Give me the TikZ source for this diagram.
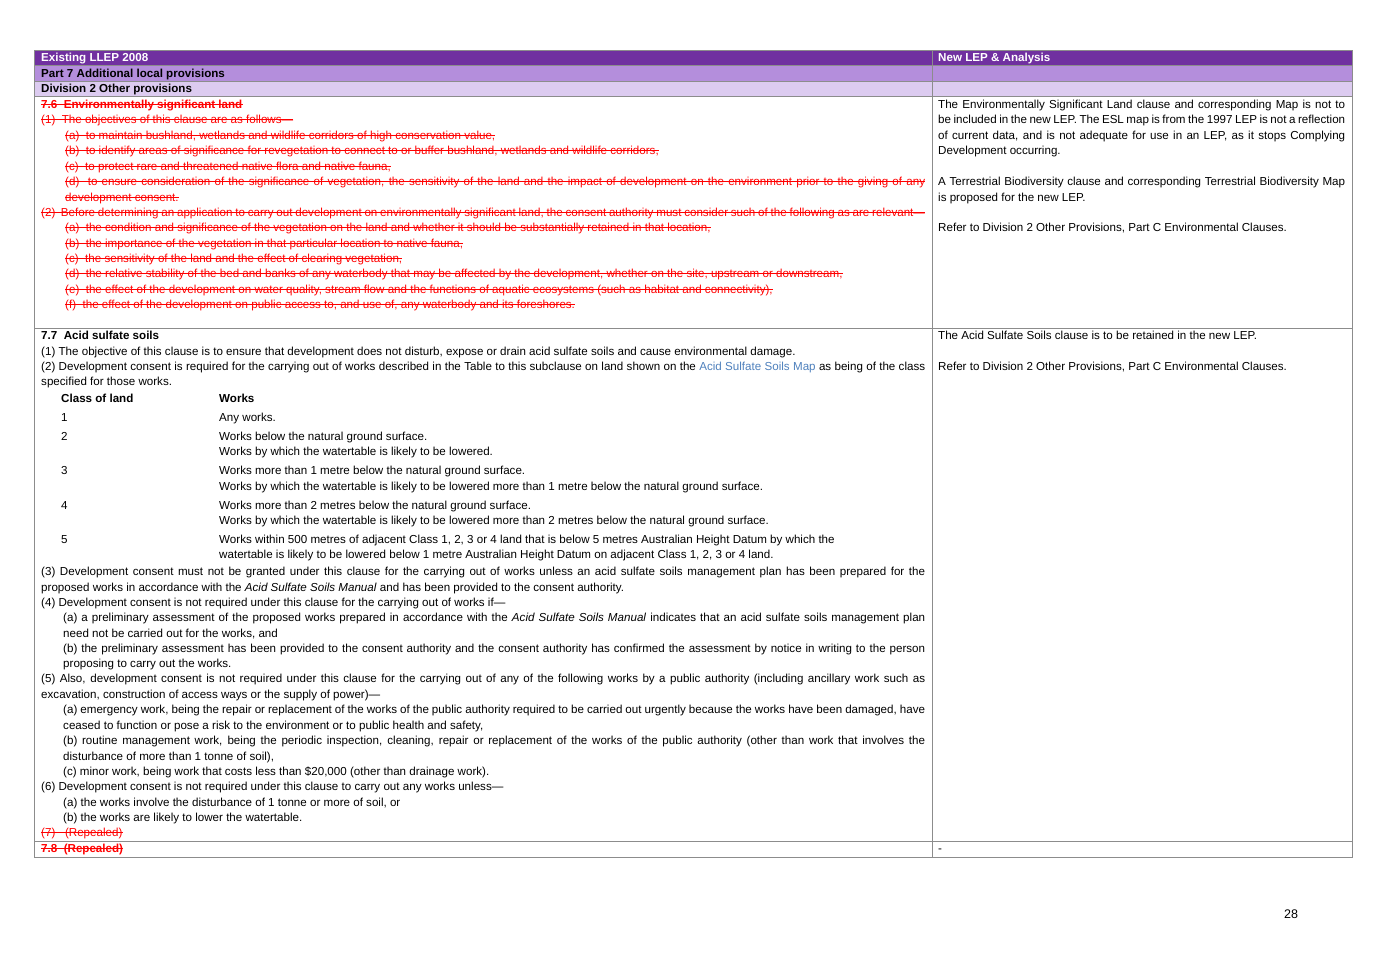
\documentclass[tikz,border=0pt]{standalone}
\usepackage{fontspec}
\setmainfont{Liberation Sans}
\definecolor{hdA}{HTML}{7030A0}
\definecolor{hdB}{HTML}{B48EDC}
\definecolor{hdC}{HTML}{DCCBF0}
\definecolor{rl}{HTML}{FF0000}
\definecolor{lnk}{HTML}{4F81BD}
\definecolor{grid}{HTML}{8C8C8C}
\newcounter{tn}
\newcommand\fs{\fontsize{11.6}{13}\selectfont}
\newcommand\T[4][]{\stepcounter{tn}\node[tx,#1] (t\thetn) at (#2,#3+4) {#4};}
\newcommand\J[5][]{\stepcounter{tn}\node[tx,#1] (t\thetn) at (#2,#3+4) {\hbox to #4pt{#5}};}
\newcommand\ST[4][]{\stepcounter{tn}\node[tx,text=rl,#1] (t\thetn) at (#2,#3+4) {#4};
  \draw[rl,line width=0.6pt] ([yshift=3.8pt]t\thetn.base west) -- ([yshift=3.8pt]t\thetn.base east);}
\newcommand\SJ[4]{\stepcounter{tn}\node[tx,text=rl] (t\thetn) at (#1,#2+4) {\hbox to #3pt{#4}};
  \draw[rl,line width=0.6pt] ([yshift=3.8pt]t\thetn.base west) -- ([yshift=3.8pt]t\thetn.base east);}
\begin{document}
\begin{tikzpicture}[x=1pt,y=-1pt,
  tx/.style={anchor=base west,inner sep=0pt,font=\fs}]
\useasboundingbox (0,0) rectangle (1382,977);
\fill[white] (0,0) rectangle (1382,977);
\fill[hdA] (34,50) rectangle (1352,65);
\fill[hdB] (34,65) rectangle (1352,81);
\fill[hdC] (34,81) rectangle (1352,96);
\draw[grid,line width=0.8pt] (34,50) rectangle (1352,857);
\foreach \yy in {65,81,96,328,841} \draw[grid,line width=0.8pt] (34,\yy) -- (1352,\yy);
\draw[grid,line width=0.8pt] (932,50) -- (932,857);
% headers
\T[text=white,font=\fs\bfseries]{41}{57}{Existing LLEP 2008}
\T[text=white,font=\fs\bfseries]{938}{57}{New LEP \& Analysis}
\T[font=\fs\bfseries]{41}{73}{Part 7 Additional local provisions}
\T[font=\fs\bfseries]{41}{88}{Division 2 Other provisions}
% 7.6
\ST[font=\fs\bfseries]{41}{104}{7.6\ \ Environmentally significant land}
\ST{41}{119}{(1)\ \ The objectives of this clause are as follows—}
\ST{65}{135}{(a)\ \ to maintain bushland, wetlands and wildlife corridors of high conservation value,}
\ST{65}{150}{(b)\ \ to identify areas of significance for revegetation to connect to or buffer bushland, wetlands and wildlife corridors,}
\ST{65}{166}{(c)\ \ to protect rare and threatened native flora and native fauna,}
\SJ{65}{181}{860}{(d)\ \ to ensure consideration of the significance of vegetation, the sensitivity of the land and the impact of development on the environment prior to the giving of any}
\ST{65}{197}{development consent.}
\SJ{41}{212}{884}{(2)\ \ Before determining an application to carry out development on environmentally significant land, the consent authority must consider such of the following as are relevant—}
\ST{65}{227}{(a)\ \ the condition and significance of the vegetation on the land and whether it should be substantially retained in that location,}
\ST{65}{243}{(b)\ \ the importance of the vegetation in that particular location to native fauna,}
\ST{65}{258}{(c)\ \ the sensitivity of the land and the effect of clearing vegetation,}
\ST{65}{273}{(d)\ \ the relative stability of the bed and banks of any waterbody that may be affected by the development, whether on the site, upstream or downstream,}
\ST{65}{289}{(e)\ \ the effect of the development on water quality, stream flow and the functions of aquatic ecosystems (such as habitat and connectivity),}
\ST{65}{304}{(f)\ \ the effect of the development on public access to, and use of, any waterbody and its foreshores.}
% right col row 1
\J{938}{104}{407}{The Environmentally Significant Land clause and corresponding Map is not to}
\J{938}{119}{407}{be included in the new LEP. The ESL map is from the 1997 LEP is not a reflection}
\J{938}{135}{407}{of current data, and is not adequate for use in an LEP, as it stops Complying}
\T{938}{150}{Development occurring.}
\J{938}{181}{407}{A Terrestrial Biodiversity clause and corresponding Terrestrial Biodiversity Map}
\T{938}{197}{is proposed for the new LEP.}
\T{938}{227}{Refer to Division 2 Other Provisions, Part C Environmental Clauses.}
% 7.7
\T[font=\fs\bfseries]{41}{335}{7.7\ \ Acid sulfate soils}
\T{41}{351}{(1)\ The objective of this clause is to ensure that development does not disturb, expose or drain acid sulfate soils and cause environmental damage.}
\J{41}{366}{884}{(2)\ Development consent is required for the carrying out of works described in the Table to this subclause on land shown on the {\color{lnk}Acid Sulfate Soils Map} as being of the class}
\T{41}{381}{specified for those works.}
\T[font=\fs\bfseries]{61}{398}{Class of land}
\T[font=\fs\bfseries]{219}{398}{Works}
\T{61}{417}{1}\T{219}{417}{Any works.}
\T{61}{436}{2}\T{219}{436}{Works below the natural ground surface.}
\T{219}{451}{Works by which the watertable is likely to be lowered.}
\T{61}{470}{3}\T{219}{470}{Works more than 1 metre below the natural ground surface.}
\T{219}{486}{Works by which the watertable is likely to be lowered more than 1 metre below the natural ground surface.}
\T{61}{505}{4}\T{219}{505}{Works more than 2 metres below the natural ground surface.}
\T{219}{520}{Works by which the watertable is likely to be lowered more than 2 metres below the natural ground surface.}
\T{61}{539}{5}\T{219}{539}{Works within 500 metres of adjacent Class 1, 2, 3 or 4 land that is below 5 metres Australian Height Datum by which the}
\T{219}{554}{watertable is likely to be lowered below 1 metre Australian Height Datum on adjacent Class 1, 2, 3 or 4 land.}
\J{41}{571}{884}{(3)\ Development consent must not be granted under this clause for the carrying out of works unless an acid sulfate soils management plan has been prepared for the}
\T{41}{587}{proposed works in accordance with the \textit{Acid Sulfate Soils Manual} and has been provided to the consent authority.}
\T{41}{602}{(4)\ Development consent is not required under this clause for the carrying out of works if—}
\J{63}{617}{862}{(a)\ a preliminary assessment of the proposed works prepared in accordance with the \textit{Acid Sulfate Soils Manual} indicates that an acid sulfate soils management plan}
\T{63}{633}{need not be carried out for the works, and}
\J{63}{648}{862}{(b)\ the preliminary assessment has been provided to the consent authority and the consent authority has confirmed the assessment by notice in writing to the person}
\T{63}{663}{proposing to carry out the works.}
\J{41}{678}{884}{(5)\ Also, development consent is not required under this clause for the carrying out of any of the following works by a public authority (including ancillary work such as}
\T{41}{694}{excavation, construction of access ways or the supply of power)—}
\J{63}{709}{862}{(a)\ emergency work, being the repair or replacement of the works of the public authority required to be carried out urgently because the works have been damaged, have}
\T{63}{725}{ceased to function or pose a risk to the environment or to public health and safety,}
\J{63}{740}{862}{(b)\ routine management work, being the periodic inspection, cleaning, repair or replacement of the works of the public authority (other than work that involves the}
\T{63}{756}{disturbance of more than 1 tonne of soil),}
\T{63}{771}{(c)\ minor work, being work that costs less than \$20,000 (other than drainage work).}
\T{41}{786}{(6)\ Development consent is not required under this clause to carry out any works unless—}
\T{63}{802}{(a)\ the works involve the disturbance of 1 tonne or more of soil, or}
\T{63}{817}{(b)\ the works are likely to lower the watertable.}
\ST{41}{832}{(7)\ \ \ (Repealed)}
\ST[font=\fs\bfseries]{41}{848}{7.8\ \ (Repealed)}
% right col row 2
\T{938}{335}{The Acid Sulfate Soils clause is to be retained in the new LEP.}
\T{938}{366}{Refer to Division 2 Other Provisions, Part C Environmental Clauses.}
\T{938}{848}{-}
\T[font=\fontsize{12.5}{14}\selectfont]{1284}{914}{28}
\end{tikzpicture}
\end{document}
